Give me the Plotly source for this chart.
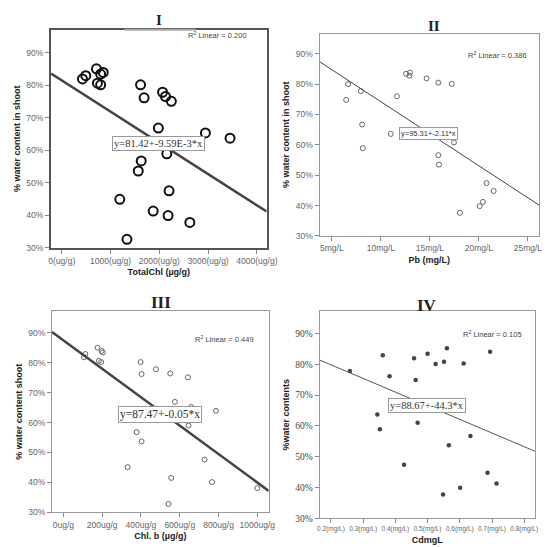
import plotly.graph_objects as go

# Panel I: Total chlorophyll vs water content
chl_total = [425, 492, 711, 731, 797, 797, 850, 1615, 1688, 2066, 2126, 2246,
             1980, 2944, 3449, 2153, 1628, 1568, 1189, 2199, 1874, 2179, 2625, 1336]
water_1 = [81.9, 82.9, 85.0, 80.6, 80.1, 83.4, 83.9, 80.1, 76.1, 77.8, 76.5, 75.0,
           66.8, 65.3, 63.7, 58.9, 56.7, 53.6, 44.9, 47.5, 41.3, 39.9, 37.8, 32.6]

# Panel II: Pb vs water content
pb = [6.46, 6.66, 7.96, 8.09, 8.16, 11.01, 11.64, 12.57, 12.91, 12.97, 14.67,
      15.86, 17.23, 17.46, 15.86, 15.93, 20.78, 21.51, 20.42, 20.08, 18.06]
water_2 = [74.8, 80.0, 77.7, 66.7, 58.9, 63.6, 76.0, 83.4, 82.8, 83.8, 81.9,
           80.5, 80.1, 60.8, 56.6, 53.5, 47.4, 44.8, 41.2, 39.8, 37.6]

# Panel III: Chl. b vs water content
chl_b = [113, 106, 176, 183, 195, 197, 203, 398, 403, 477, 551, 642,
         575, 659, 787, 645, 378, 403, 331, 728, 556, 766, 1000, 542]
water_3 = [82.9, 81.8, 85.0, 80.6, 80.2, 83.9, 83.4, 80.2, 76.2, 77.8, 76.4, 75.1,
           66.9, 65.2, 63.9, 59.0, 56.8, 53.7, 45.1, 47.6, 41.5, 40.1, 38.1, 32.8]

# Panel IV: Cd vs water content
cd = [0.259, 0.361, 0.458, 0.500, 0.560, 0.551, 0.525, 0.612, 0.694, 0.382, 0.463,
      0.344, 0.352, 0.469, 0.566, 0.633, 0.427, 0.686, 0.601, 0.714, 0.548]
water_4 = [77.8, 82.9, 81.9, 83.4, 85.2, 80.8, 80.1, 80.2, 84.0, 76.1, 74.9,
           63.7, 58.9, 61.0, 53.7, 56.7, 47.4, 44.8, 39.9, 41.3, 37.7]

# fitted lines (intercept, slope) and x ranges of each panel
fit_1 = (81.42, -9.59e-3)
fit_2 = (95.31, -2.11)
fit_3 = (87.47, -0.0475)
fit_4 = (88.67, -44.3)
xr_1 = [-220, 4200]
xr_2 = [3.74, 26.16]
xr_3 = [-59, 1059]
xr_4 = [0.1646, 0.834]

y_ticks = [30, 40, 50, 60, 70, 80, 90]
y_labels = ["30%", "40%", "50%", "60%", "70%", "80%", "90%"]
x1_ticks = [0, 1000, 2000, 3000, 4000]
x1_labels = ["0(ug/g)", "1000(ug/g)", "2000(ug/g)", "3000(ug/g)", "4000(ug/g)"]
x2_ticks = [5, 10, 15, 20, 25]
x2_labels = ["5mg/L", "10mg/L", "15mg/L", "20mg/L", "25mg/L"]
x3_ticks = [0, 200, 400, 600, 800, 1000]
x3_labels = ["0ug/g", "200ug/g", "400ug/g", "600ug/g", "800ug/g", "1000ug/g"]
x4_ticks = [0.2, 0.3, 0.4, 0.5, 0.6, 0.7, 0.8]
x4_labels = ["0.2(mg/L)", "0.3(mg/L)", "0.4(mg/L)", "0.5(mg/L)",
             "0.6(mg/L)", "0.7(mg/L)", "0.8(mg/L)"]

fig = go.Figure()

def add_panel(n, xs, ys, marker):
    ax = "" if n == 1 else str(n)
    fig.add_trace(go.Scatter(x=xs, y=ys, mode="markers", marker=marker,
                             xaxis="x" + ax, yaxis="y" + ax, showlegend=False))

add_panel(1, chl_total, water_1,
          dict(symbol="circle-open", size=9, color="#111", line=dict(width=2)))
add_panel(2, pb, water_2,
          dict(symbol="circle-open", size=5, color="#666", line=dict(width=1)))
add_panel(3, chl_b, water_3,
          dict(symbol="circle-open", size=5, color="#666", line=dict(width=1)))
add_panel(4, cd, water_4,
          dict(symbol="circle", size=4.5, color="#444"))

line_styles = [("#444", 2.5), ("#444", 1), ("#444", 2.5), ("#555", 1)]
for i, (fit, xr) in enumerate(zip([fit_1, fit_2, fit_3, fit_4], [xr_1, xr_2, xr_3, xr_4])):
    ax = "" if i == 0 else str(i + 1)
    fig.add_trace(go.Scatter(x=xr, y=[fit[0] + fit[1] * v for v in xr], mode="lines",
                             line=dict(color=line_styles[i][0], width=line_styles[i][1]),
                             xaxis="x" + ax, yaxis="y" + ax, showlegend=False))

tick_font = dict(family="Arial", size=8.5, color="#666")
title_font = dict(family="Arial", size=9, color="#222")

def axis_pair(n, dx, dy, xr, yr, xt, xl, xtitle, ytitle, lw, lc, xtf=None, ytf=None):
    ax = "" if n == 1 else str(n)
    xa = dict(domain=dx, range=xr, anchor="y" + ax, tickvals=xt, ticktext=xl, tickangle=0,
              showgrid=False, zeroline=False, showline=True, mirror=True, linecolor=lc,
              linewidth=lw, ticks="outside", ticklen=4, tickcolor="#888",
              tickfont=xtf or tick_font,
              title=dict(text="<b>" + xtitle + "</b>", font=title_font, standoff=4))
    ya = dict(domain=dy, range=yr, anchor="x" + ax, tickvals=y_ticks, ticktext=y_labels,
              showgrid=False, zeroline=False, showline=True, mirror=True, linecolor=lc,
              linewidth=lw, ticks="outside", ticklen=4, tickcolor="#888",
              tickfont=ytf or tick_font,
              title=dict(text="<b>" + ytitle + "</b>", font=title_font, standoff=4))
    return xa, ya

xa1, ya1 = axis_pair(1, [0.0764, 0.478], [0.5576, 0.9598], xr_1, [30, 97], x1_ticks, x1_labels,
                     "TotalChl (µg/g)", "% water content in shoot", 2, "#555")
xa2, ya2 = axis_pair(2, [0.5764, 0.9855], [0.5795, 0.9525], xr_2, [30, 96.6], x2_ticks, x2_labels,
                     "Pb (mg/L)", "% water content in shoot", 1, "#999")
xa3, ya3 = axis_pair(3, [0.0782, 0.4818], [0.0695, 0.4406], xr_3, [30, 97.2], x3_ticks, x3_labels,
                     "Chl. b (µg/g)", "% water content shoot", 1, "#999")
xa4, ya4 = axis_pair(4, [0.5764, 0.978], [0.0585, 0.4406], xr_4, [30, 97.2], x4_ticks, x4_labels,
                     "CdmgL", "%water contents", 1, "#999",
                     xtf=dict(family="Arial", size=6.5, color="#666"),
                     ytf=dict(family="Liberation Serif", size=9.5, color="#444"))

serif = "Liberation Serif"
titles = [
    ("<b>I</b>", 153, 12.5, 15),
    ("<b>II</b>", 434, 18, 15),
    ("<b>III</b>", 155, 297, 17),
    ("<b>IV</b>", 427, 300, 17),
]
annotations = [dict(text=t, x=px / 550, y=1 - py / 547, xref="paper", yref="paper",
                    xanchor="center", yanchor="middle", showarrow=False,
                    font=dict(family=serif, size=sz, color="#222"))
               for t, px, py, sz in titles]

eq_boxes = [
    ("", "y=81.42+-9.59E-3*x", 1987, 62.0, serif, 10.5),
    ("2", "y=95.31+-2.11*x", 14.83, 63.7, "Arial", 7.5),
    ("3", "y=87.47+-0.05*x", 496, 62.6, serif, 11.5),
    ("4", "y=88.67+-44.3*x", 0.499, 66.6, serif, 10.5),
]
for ax, txt, x, y, fam, sz in eq_boxes:
    annotations.append(dict(text=txt, x=x, y=y, xref="x" + ax, yref="y" + ax, showarrow=False,
                            bgcolor="white", bordercolor="#999", borderwidth=1, borderpad=1,
                            font=dict(family=fam, size=sz, color="#333")))

r2_labels = [
    ("", "R<sup>2</sup> Linear = 0.200", 3200, 95.3),
    ("2", "R<sup>2</sup> Linear = 0.386", 21.9, 89.6),
    ("3", "R<sup>2</sup> Linear = 0.449", 832, 88.0),
    ("4", "R<sup>2</sup> Linear = 0.105", 0.703, 89.7),
]
for ax, txt, x, y in r2_labels:
    annotations.append(dict(text=txt, x=x, y=y, xref="x" + ax, yref="y" + ax, showarrow=False,
                            font=dict(family="Arial", size=7.5, color="#444")))

fig.update_layout(
    width=550, height=547, margin=dict(l=0, r=0, t=0, b=0),
    paper_bgcolor="white", plot_bgcolor="white",
    xaxis=xa1, yaxis=ya1, xaxis2=xa2, yaxis2=ya2,
    xaxis3=xa3, yaxis3=ya3, xaxis4=xa4, yaxis4=ya4,
    annotations=annotations,
    # lighter patch on the top border of panel I, as in the scan
    shapes=[dict(type="line", xref="paper", yref="paper", x0=117 / 550, x1=190 / 550,
                 y0=0.9598, y1=0.9598, line=dict(color="#aaa", width=2))],
)

fig.write_html("out.html")
